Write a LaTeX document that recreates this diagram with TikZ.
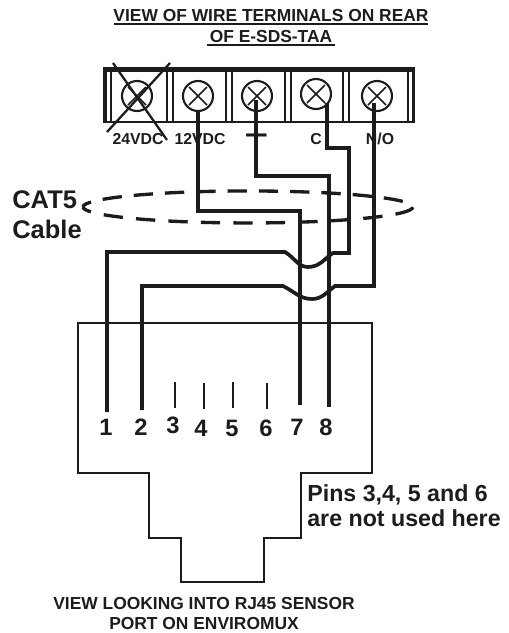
\documentclass[tikz,border=0pt]{standalone}
\usepackage{fontspec}
\setmainfont{Liberation Sans}
\definecolor{inkblack}{HTML}{1C1C1C}
\tikzset{
	wire/.style={inkblack,line width=2.1pt,line join=miter},
	thinline/.style={inkblack,line width=0.95pt},
	cableline/.style={inkblack,line width=1.9pt,x=1cm,y=1cm},
	screw/.style={draw=inkblack,circle,line width=1.2pt,minimum size=0.6cm,inner sep=0pt},
	termlabel/.style={inkblack,font=\bfseries\fontsize{9}{11}\selectfont,inner sep=0pt},
	pinlabel/.style={inkblack,font=\bfseries\fontsize{13.5}{15}\selectfont,inner sep=0pt},
	headline/.style={inkblack,font=\bfseries\fontsize{9.9}{11}\selectfont,inner sep=0pt},
	biglabel/.style={inkblack,font=\bfseries\fontsize{14.5}{16}\selectfont,inner sep=0pt,anchor=west},
	notelabel/.style={inkblack,font=\bfseries\fontsize{13.2}{15}\selectfont,inner sep=0pt,anchor=west}
}
\begin{document}
\begin{tikzpicture}[x=0.02cm,y=-0.02cm]
	\useasboundingbox (0,0) rectangle (508,633);

	\node[headline] (titleA) at (271,16) {VIEW OF WIRE TERMINALS ON REAR};
	\node[headline] (titleB) at (271,37) {OF E-SDS-TAA};
	\draw[thinline] (114,24) -- (428,24);
	\draw[thinline] (207,45) -- (335,45);

	\draw[thinline,line width=1.3pt] (104,68) rectangle (414,122);
	\draw[inkblack,line width=2pt] (104,70) -- (414,70);
	\foreach \xa/\xb in {106/111,167/173,226/232,285/291,343/349,408/413}
		\draw[thinline] (\xa,70) rectangle (\xb,122);

	\foreach \nm/\xx/\yy in {scrA/137/96,scrB/198/96,scrC/257/96,scrD/316/94,scrE/377/96}{
		\node[screw] (\nm) at (\xx,\yy) {};
		\draw[thinline] (\xx-9,\yy-9) -- (\xx+9,\yy+9) (\xx-9,\yy+9) -- (\xx+9,\yy-9);
	}
	\draw[thinline,line width=1.3pt] (113,63) -- (167,140) (170,63) -- (107,132);

	\node[termlabel] (lblA) at (138,139) {24VDC};
	\node[termlabel] (lblB) at (200,139) {12VDC};
	\node[inkblack,inner sep=0pt,font=\fontsize{24}{24}\selectfont] (lblC) at (257,137) {+};
	\node[termlabel] (lblD) at (316,139) {C};
	\node[termlabel] (lblE) at (380,139) {N/O};

	\coordinate (wireB) at (198,110);
	\coordinate (wireC) at (256,100);
	\coordinate (wireD) at (327,103);
	\coordinate (wireE) at (374,103);
	\coordinate (pinA) at (107,412);
	\coordinate (pinB) at (142,410);
	\coordinate (pinG) at (300,405);
	\coordinate (pinH) at (329,407);

	\draw[wire] (wireB) -- (198,211) -- (300,211) -- (pinG);
	\draw[wire] (wireC) -- (256,176) -- (329,176) -- (pinH);
	\draw[wire] (wireD) -- (327,148) -- (349,148) -- (349,253) -- (333,253)
		.. controls (325,258) and (320,267) .. (308,267)
		.. controls (298,267) and (295,258) .. (285,252)
		-- (107,252) -- (pinA);
	\draw[wire] (wireE) -- (374,286) -- (335,286)
		.. controls (327,292) and (322,299) .. (312,299)
		.. controls (300,299) and (295,292) .. (283,286)
		-- (142,286) -- (pinB);

	\draw[cableline,dash pattern=on 11pt off 6.82pt,dash phase=11pt]
		(8.26,-4.14) arc (0:180:3.3 and 0.32);
	\draw[cableline,dash pattern=on 11pt off 7.5pt,dash phase=5.5pt]
		(1.66,-4.14) arc (180:360:3.3 and 0.32);

	\node[biglabel] (cat) at (12,200) {CAT5};
	\node[biglabel] (cable) at (12,229) {Cable};

	\draw[thinline,line width=1.1pt] (78,323) -- (372,323) -- (372,473) -- (301,473)
		-- (301,538) -- (264,538) -- (264,582) -- (181,582) -- (181,538)
		-- (149,538) -- (149,473) -- (78,473) -- cycle;

	\foreach \xx/\ya/\yb in {175/382/408,204/383/409,233/382/408,267/383/409}
		\draw[thinline] (\xx,\ya) -- (\xx,\yb);

	\foreach \nm/\xx/\yy/\txt in {numA/106/427/1,numB/141/427/2,numC/173/425/3,numD/201/428/4,numE/232/428/5,numF/266/428/6,numG/297/427/7,numH/326/427/8}
		\node[pinlabel] (\nm) at (\xx,\yy) {\txt};

	\node[notelabel] (noteA) at (307,495) {Pins 3,4, 5 and 6};
	\node[notelabel] (noteB) at (307,518) {are not used here};

	\node[headline] (footA) at (204,604) {VIEW LOOKING INTO RJ45 SENSOR};
	\node[headline] (footB) at (204,624) {PORT ON ENVIROMUX};
\end{tikzpicture}
\end{document}
